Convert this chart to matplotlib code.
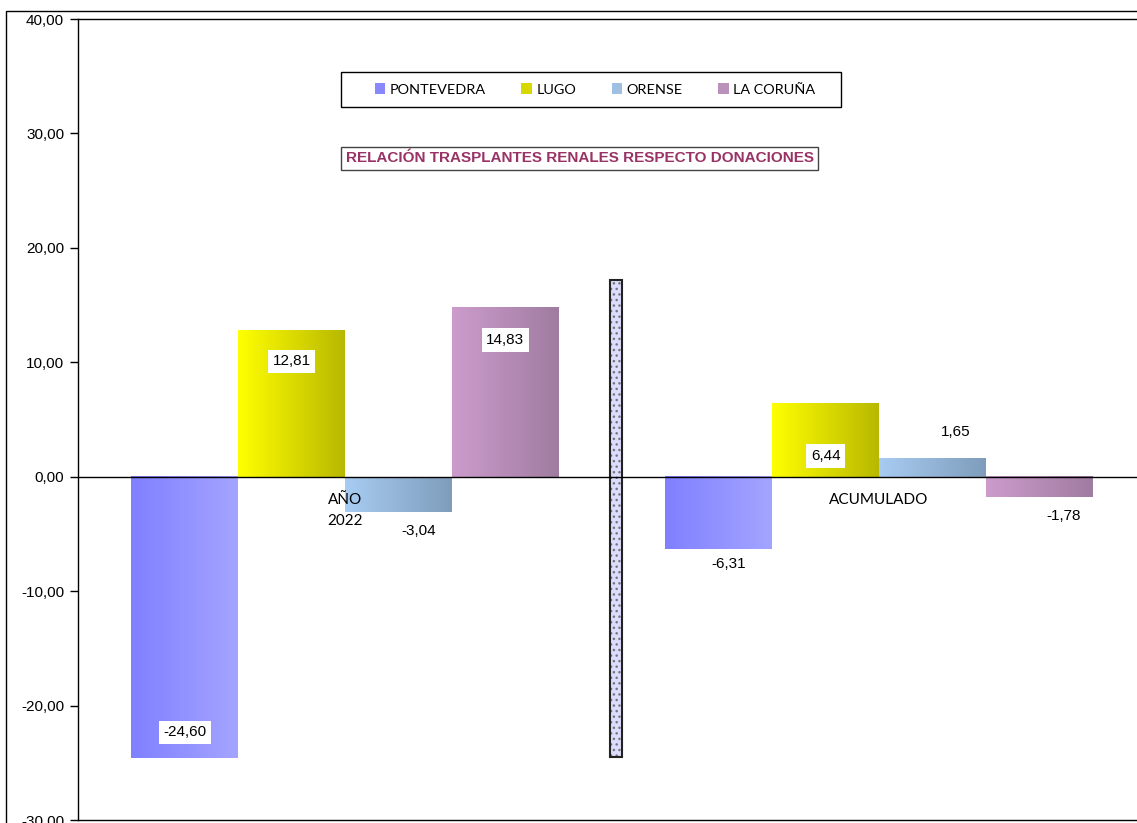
import numpy as np
import matplotlib.pyplot as plt
from matplotlib.colors import to_rgb
from matplotlib.patches import Patch, Rectangle

# Datos del gráfico
provincias = ['PONTEVEDRA', 'LUGO', 'ORENSE', 'LA CORUÑA']
grupos = ['AÑO\n2022', 'ACUMULADO']
valores_2022 = [-24.60, 12.81, -3.04, 14.83]
valores_acum = [-6.31, 6.44, 1.65, -1.78]
separador = (-24.5, 17.2)   # extremo inferior y superior de la barra divisoria

# Estilo: degradados (izquierda -> derecha) por provincia
degradados = [('#8080ff', '#a4a4ff'), ('#ffff00', '#b8b800'),
              ('#a8ccf2', '#7f9dbb'), ('#cc9ccc', '#a07ca0')]
color_leyenda = ['#8888ff', '#d8d800', '#9fc0e2', '#bb90bb']

# Desplazamiento de las etiquetas (px) y si llevan recuadro blanco
desp_2022 = [(0, 26), (0, -31), (20, -19), (0, -33)]
desp_acum = [(10, -15), (0, -53), (23, 26), (24, -19)]
caja_2022 = [True, True, False, True]
caja_acum = [False, True, False, False]

plt.rcParams['font.family'] = ['Liberation Sans', 'DejaVu Sans']

fig = plt.figure(figsize=(11.37, 8.23), dpi=100)
ax = fig.add_axes([78 / 1137, 1 - 820 / 823, 1 - 78 / 1137, (820 - 19) / 823])

ancho = 1.0
centros = [2.5, 7.5]
offsets = np.array([-1.5, -0.5, 0.5, 1.5])


def gradiente(c0, c1, n=256):
    a = np.array(to_rgb(c0))
    b = np.array(to_rgb(c1))
    t = np.linspace(0, 1, n)[:, None]
    return (a + (b - a) * t)[None, :, :]


def fmt(v):
    return f'{v:.2f}'.replace('.', ',')


for centro, vals, desps, cajas in [(centros[0], valores_2022, desp_2022, caja_2022),
                                   (centros[1], valores_acum, desp_acum, caja_acum)]:
    xs = centro + offsets
    barras = ax.bar(xs, vals, width=ancho, color='none', edgecolor='none', zorder=2)
    for b, (c0, c1), v, d, caja in zip(barras, degradados, vals, desps, cajas):
        x0 = b.get_x()
        y0, y1 = sorted([0, v])
        ax.imshow(gradiente(c0, c1), extent=[x0, x0 + ancho, y0, y1],
                  aspect='auto', interpolation='bilinear', zorder=2)
        bbox = dict(boxstyle='square,pad=0.3', facecolor='white', edgecolor='none') if caja else None
        ax.annotate(fmt(v), (b.get_x() + ancho / 2, v), xytext=d,
                    textcoords='offset pixels', ha='center', va='center',
                    fontsize=11, bbox=bbox, zorder=4)

# Barra divisoria con trama de puntos
x_sep = 5.04
w_sep = 0.11
ax.bar(x_sep, separador[1] - separador[0], bottom=separador[0], width=w_sep,
       color='#dcdcff', edgecolor='#777777', hatch='...', linewidth=0, zorder=2)
ax.bar(x_sep, separador[1] - separador[0], bottom=separador[0], width=w_sep,
       color='none', edgecolor='#222222', linewidth=1.5, zorder=3)

# Etiquetas de categoría junto al eje
for centro, g in zip(centros, grupos):
    ax.text(centro, -1.4, g, ha='center', va='top', fontsize=11,
            family=['Lato', 'DejaVu Sans'], linespacing=1.7, zorder=4)

ax.axhline(0, color='black', linewidth=1, zorder=3)
ax.set_xlim(0, (1137 - 78) / 106.8)
ax.set_ylim(-30, 40)
ax.set_yticks(np.arange(-30, 41, 10))
ax.set_yticklabels([fmt(t) for t in np.arange(-30, 41, 10)], fontsize=11)
ax.set_xticks([])
ax.tick_params(axis='y', length=6, width=1, direction='out', pad=4)
ax.spines['right'].set_visible(False)
for s in ['left', 'top', 'bottom']:
    ax.spines[s].set_linewidth(1)

# Leyenda (sin marco propio; el recuadro se dibuja aparte)
handles = [Patch(facecolor=c, edgecolor='none') for c in color_leyenda]
leg = fig.legend(handles, provincias, loc='center', ncol=4,
                 bbox_to_anchor=(595 / 1137, 1 - 89.5 / 823),
                 frameon=False,
                 prop={'family': ['Lato', 'DejaVu Sans'], 'size': 10.4},
                 handlelength=0.75, handleheight=0.75, handletextpad=0.3,
                 columnspacing=2.45, borderpad=0, borderaxespad=0)
fig.patches.append(Rectangle((341 / 1137, 1 - 107 / 823), 500 / 1137, 35 / 823,
                             transform=fig.transFigure, facecolor='white',
                             edgecolor='black', linewidth=1, zorder=0))

# Título con recuadro
fig.text(579.5 / 1137, 1 - 158.5 / 823, 'RELACIÓN TRASPLANTES RENALES RESPECTO DONACIONES',
         ha='center', va='center', fontsize=11, fontweight='bold', color='#993366',
         bbox=dict(boxstyle='square,pad=0.3', facecolor='white', edgecolor='#444444', linewidth=1))

# Marco exterior del gráfico
fig.patches.append(Rectangle((6 / 1137, -0.05), 1.1, 1 - 11 / 823 + 0.05,
                             transform=fig.transFigure, fill=False,
                             edgecolor='black', linewidth=1))

fig.savefig('out.png', dpi=100)
